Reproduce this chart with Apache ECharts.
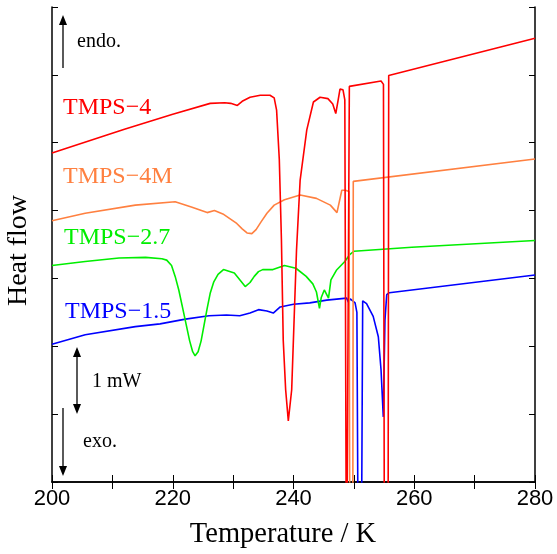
<!DOCTYPE html>
<html>
<head>
<meta charset="utf-8">
<script src="https://cdn.jsdelivr.net/npm/echarts@6/dist/echarts.min.js"></script>
<style>
html,body{margin:0;padding:0;background:#fff;}
#chart{width:557px;height:554px;}
</style>
</head>
<body>
<div id="chart"></div>
<script>
// DSC heat flow traces (T in K, heat flow in mW, shifted per sample)
// values below 0 are off the plot (clipped), used for the sharp spikes
const red_T  = [200, 212, 220, 226.2, 228.6, 229.6, 230.7, 231.5, 232.8, 234.5, 236.1, 236.8, 237.2, 237.65, 238.0, 238.3, 238.7, 239.14, 239.7, 240.1, 240.5, 241.1, 242.2, 243.3, 244.4, 245.7, 246.5, 247.0, 247.4, 247.7, 248.2, 248.5, 248.78, 249.1, 249.25, 254.5, 254.9, 255.07, 255.65, 255.77, 280];
const red_HF = [4.85, 5.2, 5.42, 5.58, 5.59, 5.58, 5.55, 5.61, 5.67, 5.70, 5.70, 5.66, 5.48, 4.75, 3.57, 2.09, 1.36, 0.90, 1.36, 2.39, 3.42, 4.45, 5.19, 5.60, 5.67, 5.65, 5.57, 5.43, 5.63, 5.79, 5.78, 5.63, -2, -2, 5.83, 5.91, 5.86, -2, -2, 5.99, 6.54];

const orange_T  = [200, 205.5, 213.8, 220.4, 223.2, 225.7, 226.9, 228.3, 230.6, 231.5, 232.3, 233.1, 233.8, 234.6, 235.6, 236.8, 238.5, 241.1, 243.8, 246.1, 247.2, 248.0, 248.6, 249.2, 249.35, 249.8, 249.9, 280];
const orange_HF = [3.85, 3.96, 4.08, 4.13, 4.05, 3.97, 4.00, 3.95, 3.81, 3.73, 3.67, 3.66, 3.72, 3.83, 3.96, 4.08, 4.16, 4.23, 4.18, 4.08, 3.97, 4.30, 4.30, 4.28, -2, -2, 4.43, 4.76];

const green_T  = [200, 205.5, 211.1, 215.5, 218.2, 219.0, 219.8, 220.4, 221.0, 221.6, 222.2, 222.8, 223.3, 223.7, 224.2, 224.7, 225.2, 225.7, 226.2, 226.8, 227.5, 228.4, 230.2, 231.2, 232.0, 232.8, 233.5, 234.2, 234.9, 236.6, 238.5, 240.4, 242.1, 243.2, 243.8, 244.3, 244.6, 245.1, 245.8, 246.2, 247.1, 248.5, 249.3, 250.0, 259.6, 280];
const green_HF = [3.19, 3.25, 3.30, 3.31, 3.29, 3.27, 3.19, 3.03, 2.83, 2.58, 2.33, 2.08, 1.92, 1.86, 1.92, 2.08, 2.32, 2.56, 2.78, 2.95, 3.06, 3.13, 3.08, 2.97, 2.88, 2.94, 3.03, 3.10, 3.13, 3.13, 3.19, 3.15, 3.03, 2.92, 2.80, 2.56, 2.72, 2.83, 2.71, 2.98, 3.12, 3.25, 3.35, 3.40, 3.46, 3.56];

const blue_T  = [200, 205.5, 213.8, 217.9, 222.1, 226.0, 228.9, 231.1, 232.8, 234.2, 235.6, 236.65, 237.8, 240.0, 242.7, 245.5, 248.8, 249.1, 249.4, 250.2, 250.5, 250.76, 251.2, 251.46, 252.1, 253.2, 254.05, 254.5, 254.87, 255.15, 255.44, 255.87, 280];
const blue_HF = [2.03, 2.17, 2.29, 2.33, 2.40, 2.45, 2.46, 2.45, 2.49, 2.54, 2.52, 2.49, 2.58, 2.62, 2.64, 2.68, 2.71, 2.65, 2.70, 2.64, 2.50, -2, -2, 2.67, 2.63, 2.44, 2.14, 1.65, 0.96, 2.39, 2.76, 2.79, 3.05];

const sampleNames  = ['TMPS\u22124', 'TMPS\u22124M', 'TMPS\u22122.7', 'TMPS\u22121.5'];
const sampleColors = ['#ff0000', '#ff8040', '#00ee00', '#0000ff'];
const xTicks = [200, 220, 240, 260, 280];

function zip(xs, ys) {
    return xs.map(function (x, i) { return [x, ys[i]]; });
}

const chart = echarts.init(document.getElementById('chart'), null, {renderer: 'canvas'});

const serif = '"Liberation Serif", "Times New Roman", serif';
const sans = '"Liberation Sans", Arial, sans-serif';

const traces = [zip(red_T, red_HF), zip(orange_T, orange_HF), zip(green_T, green_HF), zip(blue_T, blue_HF)];

function arrowHead(x, tipY, dir) {
    // dir = -1 points up, 1 points down
    return {
        type: 'polygon',
        shape: {points: [[x, tipY], [x - 4, tipY - dir * 10], [x + 4, tipY - dir * 10]]},
        style: {fill: '#000'}
    };
}

const labelY = [108, 176.5, 237.5, 311.5];
const labelX = [63, 63, 64, 65];

const graphics = [];
sampleNames.forEach(function (n, i) {
    graphics.push({
        type: 'text', left: labelX[i], top: labelY[i] - 12,
        style: {text: n, fill: sampleColors[i], font: '24px ' + serif}
    });
});
graphics.push(
    {type: 'line', shape: {x1: 63, y1: 68, x2: 63, y2: 22}, style: {stroke: '#000', lineWidth: 1.3}},
    arrowHead(63, 15, -1),
    {type: 'text', left: 77, top: 32, style: {text: 'endo.', fill: '#000', font: '20px ' + serif}},
    {type: 'line', shape: {x1: 77, y1: 354, x2: 77, y2: 406}, style: {stroke: '#000', lineWidth: 1.3}},
    arrowHead(77, 347, -1),
    arrowHead(77, 414, 1),
    {type: 'text', left: 92, top: 372, style: {text: '1 mW', fill: '#000', font: '20px ' + serif}},
    {type: 'line', shape: {x1: 63, y1: 408, x2: 63, y2: 468}, style: {stroke: '#000', lineWidth: 1.3}},
    arrowHead(63, 476, 1),
    {type: 'text', left: 83, top: 432, style: {text: 'exo.', fill: '#000', font: '20px ' + serif}}
);

const axisLineStyle = {color: '#000', width: 1.5};

const option = {
    animation: false,
    backgroundColor: '#fff',
    grid: {left: 52, right: 22, top: 7, bottom: 72, outerBoundsMode: 'none', containLabel: false},
    xAxis: [
        {
            type: 'value', position: 'bottom', min: 200, max: 280, interval: 10,
            name: 'Temperature / K', nameLocation: 'middle', nameGap: 38,
            nameTextStyle: {fontFamily: serif, fontSize: 28.5, color: '#000', padding: [0, 21, 0, 0]},
            axisLine: {lineStyle: axisLineStyle},
            axisTick: {inside: true, length: 7, lineStyle: {color: '#000', width: 1}},
            axisLabel: {
                margin: 6, color: '#000', fontFamily: sans, fontSize: 22,
                formatter: function (v) { return xTicks.indexOf(v) >= 0 ? String(v) : ''; }
            },
            splitLine: {show: false}
        },
        {
            type: 'value', position: 'top', min: 200, max: 280, interval: 10,
            axisLine: {lineStyle: axisLineStyle},
            axisTick: {inside: true, length: 7, lineStyle: {color: '#000', width: 1}},
            axisLabel: {show: false},
            splitLine: {show: false}
        }
    ],
    yAxis: [
        {
            type: 'value', position: 'left', min: 0, max: 7, interval: 1,
            name: 'Heat flow', nameLocation: 'middle', nameGap: 19,
            nameTextStyle: {fontFamily: serif, fontSize: 28, color: '#000', padding: [0, 12, 0, 0]},
            axisLine: {show: true, lineStyle: axisLineStyle},
            axisTick: {show: true, inside: true, length: 6, lineStyle: {color: '#000', width: 1}},
            axisLabel: {show: false},
            splitLine: {show: false}
        },
        {
            type: 'value', position: 'right', min: 0, max: 7, interval: 1,
            axisLine: {show: true, lineStyle: axisLineStyle},
            axisTick: {show: true, inside: true, length: 6, lineStyle: {color: '#000', width: 1}},
            axisLabel: {show: false},
            splitLine: {show: false}
        }
    ],
    series: traces.map(function (d, i) {
        return {
            name: sampleNames[i],
            type: 'line',
            data: d,
            xAxisIndex: 0,
            yAxisIndex: 0,
            showSymbol: false,
            clip: true,
            lineStyle: {color: sampleColors[i], width: 1.6},
            z: 10 - i
        };
    }),
    graphic: graphics
};

chart.setOption(option);
</script>
</body>
</html>
